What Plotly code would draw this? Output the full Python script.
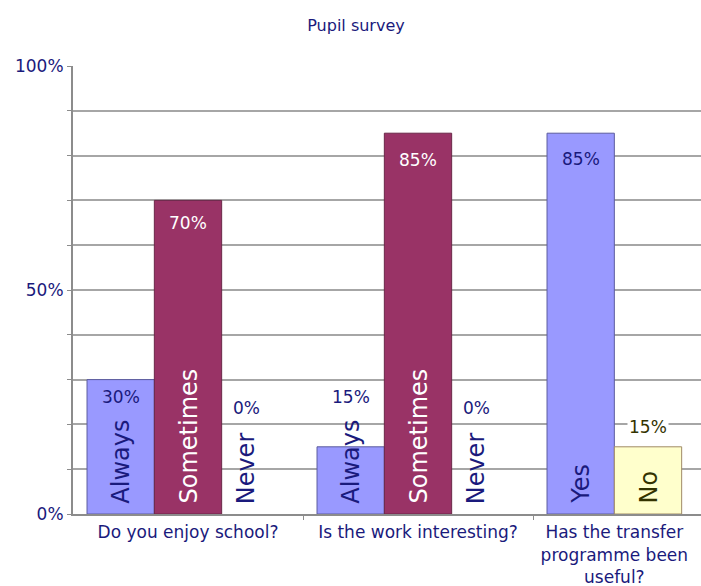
import plotly.graph_objects as go

# ---- data ----
questions = ["Do you enjoy school?", "Is the work interesting?",
             "Has the transfer<br>programme been<br>useful?"]
slot1_names = ["Always", "Always", "Yes"]
slot1_values = [30, 15, 85]
slot2_names = ["Sometimes", "Sometimes", "No"]
slot2_values = [70, 85, 15]
slot3_names = ["Never", "Never", None]
slot3_values = [0, 0, None]
y_ticks = [0, 50, 100]
y_tick_labels = ["0%", "50%", "100%"]

# ---- styles ----
FONT = "DejaVu Sans"
NAVY = "#1a1a7c"
OLIVE = "#333300"
BLUE, MAROON, YELLOW = "#9999FF", "#993366", "#FFFFCC"
BARGAP = 0.122
W = (1 - BARGAP) / 3
cats = [0, 1, 2]

slot_colors = [[BLUE, BLUE, BLUE], [MAROON, MAROON, YELLOW], [BLUE, BLUE, BLUE]]
slot_lines = [["#5c5c9e"] * 3, ["#6a2648", "#6a2648", "#a08a66"], ["#5c5c9e"] * 3]
slot_line_w = [1, 1, 0]
name_colors = [[NAVY, NAVY, NAVY], ["white", "white", OLIVE], [NAVY, NAVY, NAVY]]
val_colors = [[NAVY, NAVY, NAVY], ["white", "white", OLIVE], [NAVY, NAVY, NAVY]]
# pixel offsets of value labels relative to the bar top
val_shift = [[-17, 50, -26], [-23, -27, 20], [106, 106, 0]]
name_xshift = [[0, 0, 0], [0, 0, 0], [-9, -9, 0]]
val_xshift = [[0, 0, 0], [0, 0, 0], [-9, -9, 0]]

slots = [(slot1_names, slot1_values), (slot2_names, slot2_values),
         (slot3_names, slot3_values)]

fig = go.Figure()
for i, (names, vals) in enumerate(slots):
    fig.add_trace(go.Bar(
        x=cats, y=vals, name=f"s{i}",
        marker=dict(color=slot_colors[i],
                    line=dict(color=slot_lines[i], width=slot_line_w[i])),
        showlegend=False, hoverinfo="skip"))

annotations = []
for i, (names, vals) in enumerate(slots):
    for c in cats:
        if vals[c] is None:
            continue
        xpos = c - (1 - BARGAP) / 2 + (i + 0.5) * W
        annotations.append(dict(
            x=xpos, y=vals[c], xref="x", yref="y", text=f"{vals[c]}%",
            showarrow=False, yanchor="middle", xanchor="center",
            yshift=val_shift[i][c], xshift=val_xshift[i][c],
            font=dict(family=FONT, size=17, color=val_colors[i][c]),
            bgcolor="white" if (i == 1 and c == 2) else None))
        annotations.append(dict(
            x=xpos, y=0, xref="x", yref="y", text=names[c],
            showarrow=False, textangle=-90, yanchor="bottom", xanchor="center",
            yshift=8, xshift=name_xshift[i][c],
            font=dict(family=FONT, size=24, color=name_colors[i][c])))

label_x = [0, 1, 2 - W / 2]

fig.update_layout(
    width=701, height=586,
    margin=dict(l=73, r=0, t=66, b=72),
    paper_bgcolor="white", plot_bgcolor="white",
    barmode="group", bargap=BARGAP, bargroupgap=0,
    title=dict(text="Pupil survey", x=356 / 701, xanchor="center",
               y=1 - 25 / 586, yanchor="middle",
               font=dict(family=FONT, size=16, color=NAVY)),
    xaxis=dict(range=[-0.5, -0.5 + 628 / 230], tickmode="array",
               tickvals=label_x, ticktext=questions, ticks="",
               ticklabelstandoff=2, automargin=False,
               showgrid=False, zeroline=False, showline=True,
               linecolor="#8c8c8c", linewidth=2,
               tickfont=dict(family=FONT, size=17, color=NAVY),
               minor=dict(tickmode="array", tickvals=[0.5, 1.5],
                          ticks="outside", ticklen=4, tickcolor="#8c8c8c",
                          showgrid=False)),
    yaxis=dict(range=[0, 100], tickmode="array", tickvals=y_ticks,
               ticktext=y_tick_labels, ticks="outside", ticklen=4,
               automargin=False,
               tickcolor="#8c8c8c", showgrid=True, gridcolor="#a6a6a6",
               gridwidth=1.5, zeroline=False, showline=True,
               linecolor="#8c8c8c", linewidth=2,
               tickfont=dict(family=FONT, size=17, color=NAVY),
               minor=dict(dtick=10, tick0=0, ticks="outside", ticklen=4,
                          tickcolor="#8c8c8c", showgrid=True,
                          gridcolor="#a6a6a6", gridwidth=1.5)),
    annotations=annotations,
)

fig.write_html("out.html")
